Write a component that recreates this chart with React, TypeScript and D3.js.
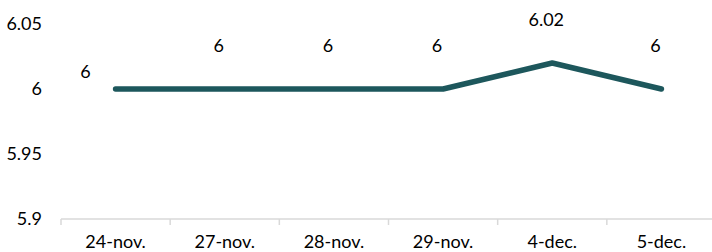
import { useRef, useEffect } from 'react';
import * as d3 from 'd3';

const W = 712;
const H = 252;
const MARGIN = { top: 24, right: -4, bottom: 33, left: 61 };

const categories = ['24-nov.', '27-nov.', '28-nov.', '29-nov.', '4-dec.', '5-dec.'];
const values = [6, 6, 6, 6, 6.02, 6];
const valueLabels = ['6', '6', '6', '6', '6.02', '6'];
const yTicks = [5.9, 5.95, 6, 6.05];

const LINE_COLOR = '#1d575c';
const FONT = 'Lato, "Open Sans", sans-serif';
const FS = 18;

export default function App() {
  const svgRef = useRef<SVGSVGElement | null>(null);

  useEffect(() => {
    if (!svgRef.current) return;
    const svg = d3.select(svgRef.current);
    svg.selectAll('*').remove();

    const innerW = W - MARGIN.left - MARGIN.right;
    const innerH = H - MARGIN.top - MARGIN.bottom;

    const x = d3.scaleBand().domain(categories).range([MARGIN.left, MARGIN.left + innerW]);
    const y = d3.scaleLinear().domain([5.9, 6.05]).range([MARGIN.top + innerH, MARGIN.top]);
    const cx = (i: number) => (x(categories[i]) as number) + x.bandwidth() / 2;

    // y labels (no axis line, no gridlines)
    svg.append('g')
      .selectAll('text')
      .data(yTicks)
      .join('text')
      .attr('x', 42)
      .attr('y', (d) => y(d))
      .attr('dy', '0.35em')
      .attr('text-anchor', 'end')
      .attr('font-family', FONT)
      .attr('font-size', FS)
      .attr('fill', '#000')
      .text((d) => String(d));

    // x axis
    const base = y(5.9);
    svg.append('line')
      .attr('x1', MARGIN.left).attr('x2', W)
      .attr('y1', base).attr('y2', base)
      .attr('stroke', '#d9d9d9').attr('stroke-width', 1.5);

    const edges = categories.map((c) => x(c) as number);
    svg.append('g')
      .selectAll('line')
      .data(edges)
      .join('line')
      .attr('x1', (d) => d).attr('x2', (d) => d)
      .attr('y1', base).attr('y2', base + 6)
      .attr('stroke', '#d9d9d9').attr('stroke-width', 1.5);

    svg.append('g')
      .selectAll('text')
      .data(categories)
      .join('text')
      .attr('x', (_, i) => cx(i))
      .attr('y', 248)
      .attr('text-anchor', 'middle')
      .attr('font-family', FONT)
      .attr('font-size', FS)
      .attr('fill', '#000')
      .text((d) => d);

    // line
    const line = d3.line<number>()
      .x((_, i) => cx(i))
      .y((d) => y(d));

    svg.append('path')
      .datum(values)
      .attr('fill', 'none')
      .attr('stroke', LINE_COLOR)
      .attr('stroke-width', 5.5)
      .attr('stroke-linecap', 'round')
      .attr('stroke-linejoin', 'round')
      .attr('d', line);

    // data labels — first one sits left-above, the rest well above the point
    svg.append('g')
      .selectAll('text')
      .data(values)
      .join('text')
      .attr('x', (_, i) => cx(i) + (i === 0 ? -30 : -6))
      .attr('y', (d, i) => y(d) - (i === 0 ? 17 : 43))
      .attr('dy', '0.35em')
      .attr('text-anchor', 'middle')
      .attr('font-family', FONT)
      .attr('font-size', FS)
      .attr('fill', '#000')
      .text((_, i) => valueLabels[i]);
  }, []);

  return (
    <svg
      ref={svgRef}
      width={W}
      height={H}
      style={{ position: 'absolute', left: 0, top: 0, background: '#fff' }}
    />
  );
}
